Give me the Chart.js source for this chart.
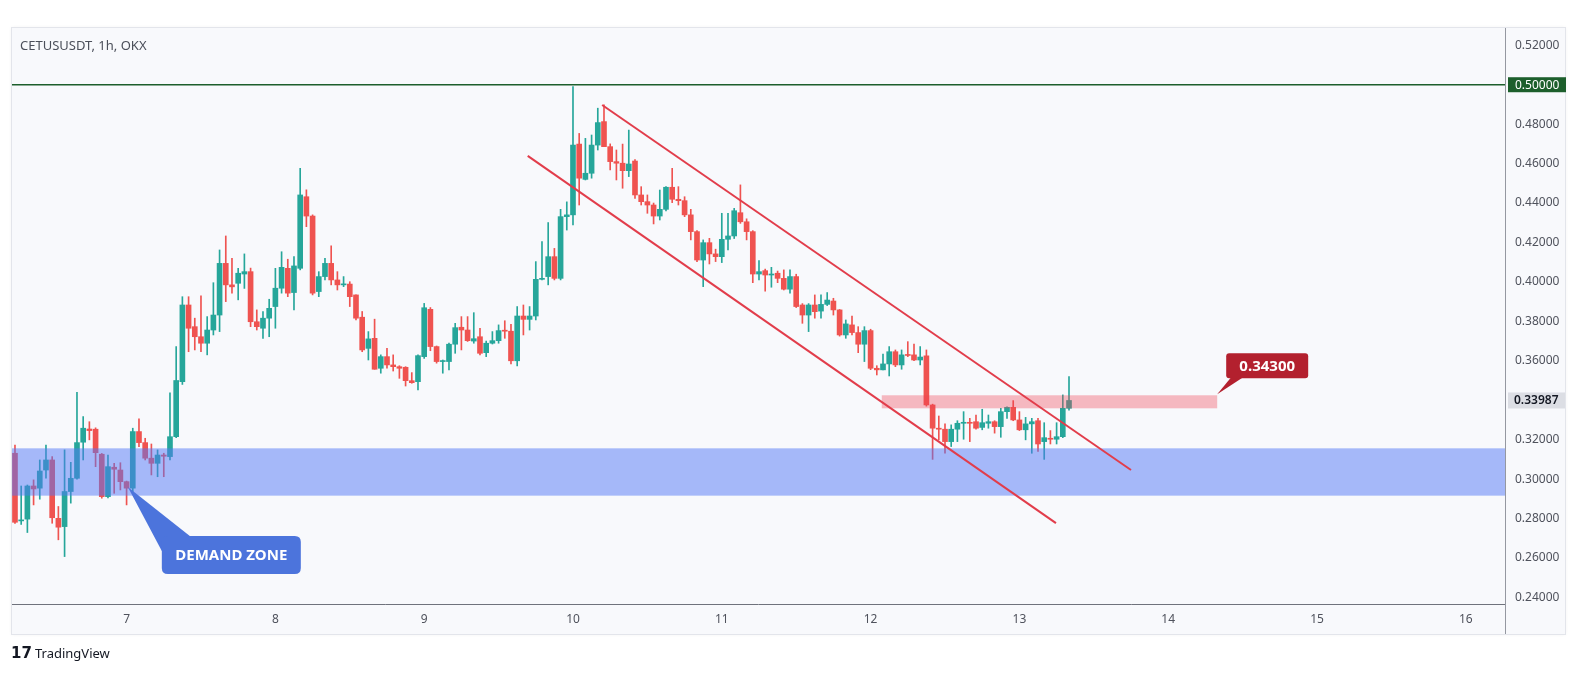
<!DOCTYPE html>
<html>
<head>
<meta charset="utf-8">
<title>CETUSUSDT 1h</title>
<script src="https://cdn.jsdelivr.net/npm/chart.js@4.4.1/dist/chart.umd.min.js"></script>
<style>
  html, body { margin: 0; padding: 0; background: #fff; }
  canvas { display: block; }
</style>
</head>
<body>
<canvas id="chart" width="1579" height="673"></canvas>
<script>
// hourly candles, hour 0 = day 7 00:00, first candle is day 6 06:00
const FIRST_HOUR = -18;

const opens = [
  .3131,.2788,.2797,.2965,.2954,.3046,.3097,.2801,.2759,.2937,.3004,.3187,.3254,.3253,.3126,.2911,.3060,.3046,
  .2987,.2954,.3241,.3185,.3106,.3080,.3122,.3114,.3215,.3494,.3883,.3773,.3722,.3689,.3756,.3832,.4094,.3985,.3993,.4040,.4052,.3798,.3765,.3816,
  .3875,.3968,.4069,.3946,.4069,.4432,.4334,.3951,.4027,.4094,.4010,.3985,.3989,.3934,.3821,.3663,.3714,.3562,.3621,.3579,.3570,.3567,.3499,.3494,
  .3621,.3861,.3672,.3596,.3596,.3684,.3770,.3756,.3700,.3722,.3641,.3689,.3702,.3753,.3750,.3600,.3827,.3810,.3827,.4013,.4027,.4128,.4018,.4331,
  .4340,.4699,.4520,.4551,.4694,.4813,.4686,.4610,.4602,.4564,.4613,.4441,.4407,.4390,.4334,.4368,.4480,.4419,.4412,.4340,.4255,.4111,.4199,.4142,
  .4128,.4216,.4233,.4351,.4305,.4255,.4040,.4057,.4035,.4044,.4018,.3963,.4027,.3883,.3832,.3883,.3852,.3886,.3903,.3858,.3731,.3782,.3743,.3684,
  .3753,.3562,.3554,.3584,.3646,.3579,.3630,.3630,.3604,.3625,.3376,.3258,.3253,.3190,.3253,.3283,.3286,.3291,.3262,.3283,.3291,.3266,.3342,.3364,
  .3300,.3250,.3280,.3296,.3190,.3207,.3202,.3215,.3359
];
const highs = [
  .3173,.2965,.2970,.2996,.3097,.3173,.3114,.2861,.3148,.3085,.3440,.3317,.3291,.3260,.3130,.3122,.3080,.3083,
  .2990,.3258,.3306,.3207,.3178,.3148,.3131,.3437,.3672,.3925,.3925,.3816,.3929,.3824,.3996,.4162,.4233,.4120,.4069,.4142,.4070,.3858,.3850,.3912,
  .4069,.4153,.4115,.4128,.4576,.4467,.4340,.4052,.4120,.4183,.4052,.4027,.4001,.3934,.3850,.3748,.3811,.3630,.3663,.3630,.3575,.3570,.3540,.3630,
  .3891,.3870,.3675,.3604,.3690,.3790,.3824,.3824,.3844,.3765,.3700,.3748,.3782,.3803,.3785,.3875,.3883,.3875,.4103,.4204,.4301,.4170,.4368,.4406,
  .4990,.4753,.4728,.4745,.4881,.4898,.4700,.4669,.4699,.4770,.4620,.4483,.4441,.4400,.4466,.4483,.4576,.4483,.4432,.4368,.4260,.4213,.4221,.4166,
  .4348,.4348,.4373,.4492,.4320,.4260,.4108,.4065,.4074,.4055,.4061,.4061,.4039,.3890,.3890,.3934,.3934,.3946,.3917,.3860,.3807,.3827,.3773,.3773,
  .3760,.3575,.3634,.3672,.3655,.3655,.3697,.3685,.3672,.3655,.3380,.3320,.3280,.3275,.3296,.3342,.3308,.3325,.3354,.3325,.3296,.3359,.3367,.3398,
  .3342,.3313,.3308,.3308,.3286,.3246,.3286,.3427,.3520
];
const lows = [
  .2775,.2770,.2729,.2869,.2898,.3005,.2776,.2692,.2607,.2878,.3000,.3097,.3199,.3063,.2903,.2905,.2928,.2945,
  .2869,.2928,.3165,.3097,.3021,.3012,.3012,.3097,.3210,.3480,.3646,.3655,.3646,.3630,.3731,.3748,.3900,.3943,.3909,.3967,.3773,.3756,.3714,.3722,
  .3765,.3943,.3925,.3858,.4061,.4280,.3934,.3925,.4010,.3985,.3959,.3976,.3875,.3807,.3646,.3604,.3557,.3537,.3562,.3548,.3511,.3472,.3486,.3452,
  .3612,.3651,.3588,.3537,.3554,.3638,.3655,.3698,.3689,.3630,.3621,.3685,.3689,.3714,.3584,.3574,.3731,.3756,.3807,.4010,.3985,.4010,.4010,.4263,
  .4289,.4390,.4517,.4526,.4669,.4686,.4568,.4517,.4475,.4534,.4424,.4390,.4348,.4294,.4314,.4360,.4402,.4390,.4331,.4213,.4103,.3976,.4091,.4103,
  .4098,.4162,.4220,.4297,.4213,.3996,.4010,.3953,.3973,.3996,.3959,.3943,.3870,.3790,.3748,.3816,.3816,.3880,.3832,.3725,.3714,.3731,.3641,.3596,
  .3555,.3528,.3554,.3523,.3570,.3557,.3621,.3600,.3579,.3370,.3100,.3199,.3131,.3165,.3190,.3202,.3190,.3253,.3250,.3258,.3233,.3212,.3308,.3296,
  .3246,.3199,.3131,.3140,.3100,.3178,.3178,.3210,.3350
];
const closes = [
  .2781,.2792,.2965,.2950,.3041,.3097,.2804,.2756,.2937,.3004,.3185,.3258,.3246,.3134,.2911,.3063,.3050,.2987,
  .2954,.3241,.3185,.3106,.3080,.3122,.3116,.3215,.3500,.3883,.3765,.3722,.3689,.3756,.3832,.4094,.3985,.3975,.4044,.4052,.3798,.3773,.3816,.3866,
  .3968,.4074,.3943,.4081,.4441,.4334,.3943,.4027,.4094,.4010,.3985,.3990,.3925,.3816,.3655,.3711,.3557,.3621,.3579,.3570,.3562,.3499,.3489,.3626,
  .3869,.3672,.3596,.3599,.3684,.3768,.3756,.3702,.3712,.3638,.3689,.3702,.3753,.3750,.3600,.3827,.3810,.3827,.4013,.4018,.4128,.4018,.4331,.4340,
  .4694,.4526,.4551,.4694,.4808,.4686,.4610,.4602,.4564,.4598,.4441,.4407,.4390,.4334,.4368,.4480,.4419,.4412,.4340,.4255,.4111,.4199,.4142,.4128,
  .4216,.4233,.4361,.4305,.4255,.4040,.4052,.4035,.4040,.4018,.3963,.4027,.3875,.3832,.3883,.3849,.3886,.3908,.3858,.3731,.3787,.3743,.3684,.3753,
  .3562,.3554,.3584,.3646,.3579,.3630,.3627,.3604,.3619,.3376,.3258,.3253,.3190,.3253,.3283,.3286,.3283,.3258,.3286,.3291,.3266,.3342,.3364,.3300,
  .3250,.3280,.3291,.3178,.3210,.3202,.3215,.3359,.33987
];

const dayTicks = [0, 24, 48, 72, 96, 120, 144, 168, 192, 216];
const dayLabels = ['7', '8', '9', '10', '11', '12', '13', '14', '15', '16'];
const priceTicks = [0.52, 0.48, 0.46, 0.44, 0.42, 0.40, 0.38, 0.36, 0.32, 0.30, 0.28, 0.26, 0.24];

const keyLevel = 0.5;
const lastPrice = 0.33987;
const demandZone = [0.2916, 0.3156];
const breakoutZone = { from: 121.8, to: 175.9, low: 0.3359, high: 0.3425 };
const breakoutLabel = '0.34300';
const channelUpper = [{ x: 76.7, y: 0.4897 }, { x: 162.0, y: 0.3046 }];
const channelLower = [{ x: 64.7, y: 0.4639 }, { x: 149.9, y: 0.2777 }];
const demandAnchor = { x: 0.2, y: 0.296 };

const X_MIN = -18.48, X_MAX = 222.32;
const Y_MIN = 0.23665, Y_MAX = 0.52877;

const UP = '#26a69a';
const DOWN = '#ef5350';
const FONT = '"Noto Sans", "Liberation Sans", sans-serif';

const hours = opens.map((_, i) => FIRST_HOUR + i);
const candleColors = opens.map((o, i) => (closes[i] >= o ? UP : DOWN));
const bodies = hours.map((h, i) => ({ x: h, y: [opens[i], closes[i]] }));
const wicks = hours.map((h, i) => ({
  x: h,
  y: [Math.min(lows[i], opens[i], closes[i]), Math.max(highs[i], opens[i], closes[i])]
}));

const BODY_INDEX = 3;

function roundRect(ctx, x, y, w, h, r) {
  ctx.beginPath();
  ctx.moveTo(x + r, y);
  ctx.lineTo(x + w - r, y);
  ctx.quadraticCurveTo(x + w, y, x + w, y + r);
  ctx.lineTo(x + w, y + h - r);
  ctx.quadraticCurveTo(x + w, y + h, x + w - r, y + h);
  ctx.lineTo(x + r, y + h);
  ctx.quadraticCurveTo(x, y + h, x, y + h - r);
  ctx.lineTo(x, y + r);
  ctx.quadraticCurveTo(x, y, x + r, y);
  ctx.closePath();
}

const overlay = {
  id: 'overlay',
  beforeDraw(chart) {
    const ctx = chart.ctx;
    ctx.save();
    ctx.fillStyle = '#ffffff';
    ctx.fillRect(0, 0, chart.width, chart.height);
    ctx.shadowColor = 'rgba(0,0,0,0.08)';
    ctx.shadowBlur = 4;
    ctx.fillStyle = '#f8f9fc';
    ctx.fillRect(12, 28, 1553, 606);
    ctx.shadowBlur = 0;
    ctx.strokeStyle = '#e3e5eb';
    ctx.lineWidth = 1;
    ctx.strokeRect(11.5, 27.5, 1554, 607);
    ctx.fillStyle = '#4b4f5a';
    ctx.font = '13px ' + FONT;
    ctx.textBaseline = 'middle';
    ctx.fillText('CETUSUSDT, 1h, OKX', 20, 46);
    ctx.restore();
  },
  afterDatasetDraw(chart, args) {
    if (args.index !== BODY_INDEX) return;
    const { ctx, chartArea: a, scales: { x, y } } = chart;
    ctx.save();
    ctx.beginPath();
    ctx.rect(a.left, a.top, a.right - a.left, a.bottom - a.top);
    ctx.clip();
    // demand zone across the whole pane
    const zt = y.getPixelForValue(demandZone[1]);
    const zb = y.getPixelForValue(demandZone[0]);
    ctx.fillStyle = 'rgba(82,120,246,0.5)';
    ctx.fillRect(a.left, zt, a.right - a.left, zb - zt);
    // breakout box
    const bl = x.getPixelForValue(breakoutZone.from);
    const br = x.getPixelForValue(breakoutZone.to);
    const bt = y.getPixelForValue(breakoutZone.high);
    const bb = y.getPixelForValue(breakoutZone.low);
    ctx.fillStyle = 'rgba(242,64,80,0.35)';
    ctx.fillRect(bl, bt, br - bl, bb - bt);
    ctx.restore();
  },
  afterDraw(chart) {
    const { ctx, chartArea: a, scales: { x, y } } = chart;
    ctx.save();

    // scale borders
    ctx.strokeStyle = '#6f727c';
    ctx.lineWidth = 1;
    ctx.beginPath();
    ctx.moveTo(12, Math.round(a.bottom) + 0.5);
    ctx.lineTo(a.right, Math.round(a.bottom) + 0.5);
    ctx.stroke();
    ctx.strokeStyle = '#9598a1';
    ctx.beginPath();
    ctx.moveTo(Math.round(a.right) + 0.5, 28);
    ctx.lineTo(Math.round(a.right) + 0.5, 634);
    ctx.stroke();

    // price boxes on the axis
    ctx.font = '12px ' + FONT;
    ctx.textBaseline = 'middle';
    const ky = y.getPixelForValue(keyLevel);
    ctx.fillStyle = '#1d5f2c';
    ctx.fillRect(a.right + 3, ky - 7.5, 58, 15);
    ctx.fillStyle = '#ffffff';
    ctx.fillText(keyLevel.toFixed(5), a.right + 10, ky + 0.5);

    const ly = y.getPixelForValue(lastPrice);
    ctx.fillStyle = '#dcdee4';
    ctx.fillRect(a.right + 3, ly - 8, 57, 16);
    ctx.fillStyle = '#131722';
    ctx.font = '600 12px ' + FONT;
    ctx.fillText(lastPrice.toFixed(5), a.right + 9, ly + 0.5);

    // breakout callout
    const ax = x.getPixelForValue(breakoutZone.to);
    const ay = y.getPixelForValue(breakoutZone.high);
    ctx.fillStyle = '#b3202e';
    ctx.beginPath();
    ctx.moveTo(ax, ay - 1);
    ctx.lineTo(ax + 14, ay - 18);
    ctx.lineTo(ax + 26, ay - 18);
    ctx.closePath();
    ctx.fill();
    roundRect(ctx, ax + 9, ay - 42, 82, 25, 3);
    ctx.fill();
    ctx.fillStyle = '#ffffff';
    ctx.font = 'bold 15px ' + FONT;
    ctx.textAlign = 'center';
    ctx.fillText(breakoutLabel, ax + 50, ay - 29);

    // demand zone callout
    const dx = x.getPixelForValue(demandAnchor.x);
    const dy = y.getPixelForValue(demandAnchor.y);
    ctx.fillStyle = '#4c74dc';
    ctx.beginPath();
    ctx.moveTo(dx, dy);
    ctx.lineTo(dx + 34, dy + 64);
    ctx.lineTo(dx + 62, dy + 49);
    ctx.closePath();
    ctx.fill();
    roundRect(ctx, dx + 34, dy + 49, 139, 38, 6);
    ctx.fill();
    ctx.fillStyle = '#ffffff';
    ctx.font = 'bold 15px ' + FONT;
    ctx.fillText('DEMAND ZONE', dx + 103.5, dy + 68.5);

    // footer logo
    ctx.textAlign = 'left';
    ctx.fillStyle = '#131722';
    ctx.font = 'bold 15px "DejaVu Sans", sans-serif';
    ctx.fillText('17', 11, 654);
    ctx.font = '13px ' + FONT;
    ctx.fillText('TradingView', 35, 654);
    ctx.restore();
  }
};

const ctx = document.getElementById('chart').getContext('2d');
new Chart(ctx, {
  type: 'bar',
  data: {
    datasets: [
      {
        type: 'line',
        data: [{ x: X_MIN, y: keyLevel }, { x: X_MAX, y: keyLevel }],
        borderColor: '#1d5f2c',
        borderWidth: 1.5,
        pointRadius: 0,
        order: 1
      },
      {
        type: 'line',
        data: channelUpper,
        borderColor: '#e23d4b',
        borderWidth: 2,
        pointRadius: 0,
        order: 1
      },
      {
        type: 'line',
        data: channelLower,
        borderColor: '#e23d4b',
        borderWidth: 2,
        pointRadius: 0,
        order: 1
      },
      {
        data: bodies,
        backgroundColor: candleColors,
        barThickness: 5,
        minBarLength: 1,
        grouped: false,
        order: 2
      },
      {
        data: wicks,
        backgroundColor: candleColors,
        barThickness: 1,
        grouped: false,
        order: 3
      }
    ]
  },
  options: {
    responsive: false,
    animation: false,
    devicePixelRatio: 1,
    layout: { padding: { left: 12, top: 28, right: 14, bottom: 39 } },
    plugins: {
      legend: { display: false },
      tooltip: { enabled: false }
    },
    scales: {
      x: {
        type: 'linear',
        min: X_MIN,
        max: X_MAX,
        offset: false,
        grid: { display: false, drawTicks: false },
        border: { display: false },
        afterBuildTicks: (s) => { s.ticks = dayTicks.map(v => ({ value: v })); },
        afterFit: (s) => { s.height = 30; },
        ticks: {
          padding: 8,
          autoSkip: false,
          maxRotation: 0,
          color: '#4f525c',
          font: { size: 12, family: FONT },
          callback: (v) => {
            const i = dayTicks.indexOf(v);
            return i >= 0 ? dayLabels[i] : '';
          }
        }
      },
      y: {
        position: 'right',
        min: Y_MIN,
        max: Y_MAX,
        grid: { display: false, drawTicks: false },
        border: { display: false },
        afterBuildTicks: (s) => { s.ticks = priceTicks.map(v => ({ value: v })); },
        afterFit: (s) => { s.width = 60; },
        ticks: {
          padding: 10,
          color: '#4f525c',
          font: { size: 12, family: FONT },
          callback: (v) => v.toFixed(5)
        }
      }
    }
  },
  plugins: [overlay]
});
</script>
</body>
</html>
